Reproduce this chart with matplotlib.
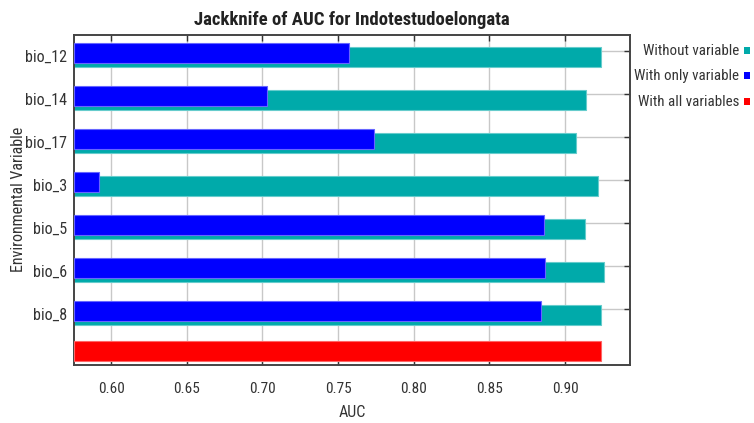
import numpy as np
import matplotlib.pyplot as plt
from matplotlib.patches import Rectangle
from matplotlib.transforms import ScaledTranslation

plt.rcParams['font.family'] = ['Roboto Condensed', 'Archivo Narrow', 'Liberation Sans', 'DejaVu Sans']

variables = ['bio_12', 'bio_14', 'bio_17', 'bio_3', 'bio_5', 'bio_6', 'bio_8']
auc_without = [0.924, 0.914, 0.907, 0.922, 0.913, 0.926, 0.924]
auc_only = [0.757, 0.703, 0.774, 0.592, 0.886, 0.887, 0.884]
auc_all = 0.924

teal = '#00aaaa'
blue = '#0000ff'
red = '#ff0000'
x0 = 0.5755

fig = plt.figure(figsize=(7.54, 4.23), dpi=100)
ax = fig.add_axes([74 / 754, 1 - 365 / 423, (630 - 74) / 754, (365 - 34.7) / 423])

pos = np.arange(len(variables))
w = 0.48
ax.barh(pos, np.array(auc_without) - x0, left=x0, height=w, color=teal,
        edgecolor='#66cccc', linewidth=0.8, zorder=2)
ax.barh(pos - 0.093, np.array(auc_only) - x0, left=x0, height=w, color=blue,
        edgecolor='#6666ff', linewidth=0.8, zorder=3)
ax.barh([6.84], [auc_all - x0], left=x0, height=0.47, color=red,
        edgecolor='#ff6666', linewidth=0.8, zorder=3)

ax.set_xlim(x0, 0.943)
ax.set_ylim(7.16, -0.52)
ax.set_xticks([0.60, 0.65, 0.70, 0.75, 0.80, 0.85, 0.90])
ax.set_xticklabels(['%.2f' % v for v in ax.get_xticks()])
ax.set_yticks(pos - 0.14)
ax.set_yticklabels(variables)
ax.grid(True, color='#c8c8c8', linewidth=1, zorder=0)
ax.set_axisbelow(True)
ax.tick_params(direction='in', length=4, width=1, color='#333333',
               top=True, right=True, labelsize=11, labelcolor='#333333')
ax.tick_params(axis='y', labelsize=11.5, pad=5)
ax.tick_params(axis='x', pad=12)
# variable names sit a little below their tick marks
shift = ScaledTranslation(0, -5 / 100, fig.dpi_scale_trans)
for lab in ax.get_yticklabels():
    lab.set_transform(lab.get_transform() + shift)
for sp in ax.spines.values():
    sp.set_color('#444444')
    sp.set_linewidth(1.4)

ax.set_xlabel('AUC', fontsize=11.5, color='#333333', labelpad=7)
ax.set_ylabel('Environmental Variable', fontsize=11.5, color='#333333', labelpad=-1)
ax.set_title('Jackknife of AUC for Indotestudoelongata', fontsize=13.5,
             fontweight='bold', color='#222222', pad=7)

# legend: right-aligned labels with small colour squares
legend_items = [('Without variable', teal, 51), ('With only variable', blue, 76),
                ('With all variables', red, 102)]
for label, c, yp in legend_items:
    fig.text(739 / 754, 1 - yp / 423, label, ha='right', va='center',
             fontsize=10.8, color='#333333')
    fig.patches.append(Rectangle((744 / 754, 1 - (yp + 3) / 423), 6 / 754, 7 / 423,
                                 transform=fig.transFigure, facecolor=c,
                                 edgecolor='none'))

fig.savefig('out.png', dpi=100)
